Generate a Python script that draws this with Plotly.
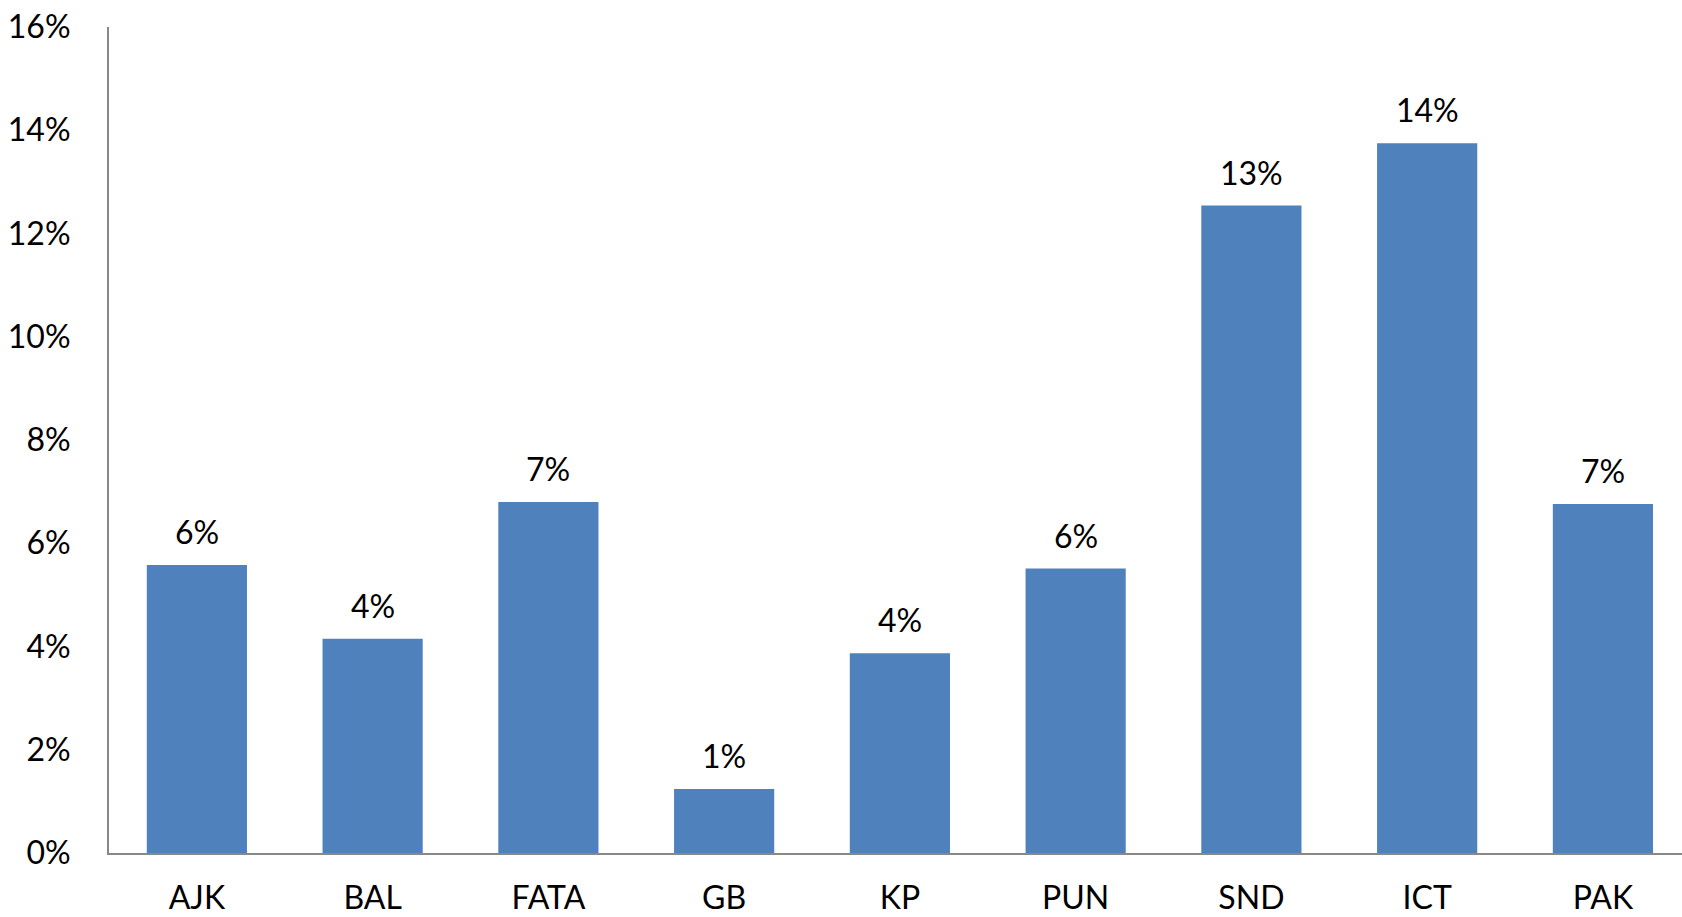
import plotly.graph_objects as go

categories = ["AJK", "BAL", "FATA", "GB", "KP", "PUN", "SND", "ICT", "PAK"]
values = [0.0558, 0.0415, 0.0680, 0.0124, 0.0387, 0.0551, 0.1254, 0.1375, 0.0676]
y_ticks = [0, 0.02, 0.04, 0.06, 0.08, 0.10, 0.12, 0.14, 0.16]
y_tick_labels = ["0%", "2%", "4%", "6%", "8%", "10%", "12%", "14%", "16%"]

FONT = "Lato, 'Open Sans', sans-serif"
fig = go.Figure()
fig.add_trace(go.Bar(
    x=categories, y=values,
    marker=dict(color="#4F81BD", line=dict(width=0)),
    width=0.57,
))
for c, v in zip(categories, values):
    fig.add_annotation(x=c, y=v, text=f"{round(v*100)}%", showarrow=False,
                       yanchor="bottom", yshift=12,
                       font=dict(family=FONT, size=32, color="black"))

fig.update_layout(
    width=1682, height=917,
    margin=dict(l=109, r=0, t=27, b=64, autoexpand=False),
    paper_bgcolor="white", plot_bgcolor="white",
    showlegend=False,
    font=dict(family=FONT, size=32, color="black"),
    bargap=0.43,
)
fig.update_xaxes(
    range=[-0.5, 8.45], showline=True, linecolor="#888888", linewidth=2,
    showgrid=False, ticks="", ticklabelstandoff=16, automargin=False,
    tickfont=dict(family=FONT, size=32, color="black"),
)
fig.update_yaxes(
    range=[0, 0.16], tickvals=y_ticks, ticktext=y_tick_labels,
    showline=True, linecolor="#888888", linewidth=2,
    showgrid=False, zeroline=False, ticks="", ticklabelstandoff=30, automargin=False,
    tickfont=dict(family=FONT, size=32, color="black"),
)
fig.write_html("out.html")
